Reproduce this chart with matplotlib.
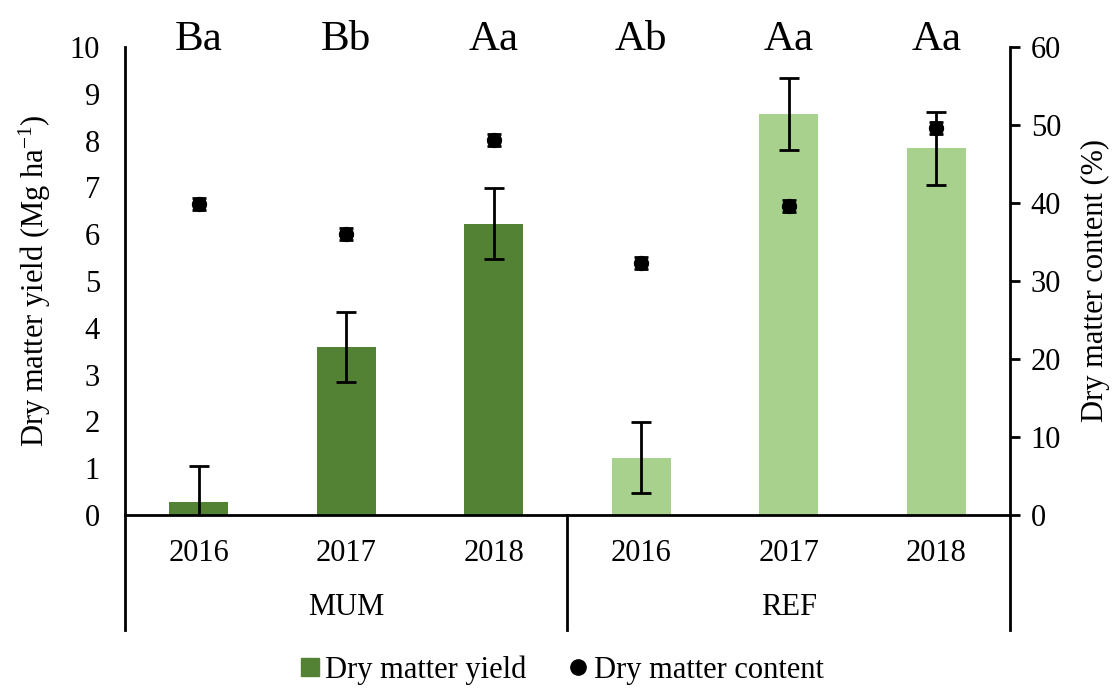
import matplotlib
matplotlib.use("Agg")
import matplotlib.pyplot as plt
import matplotlib.transforms as mtransforms
from matplotlib.lines import Line2D
import numpy as np

plt.rcParams['font.family'] = ['Liberation Serif', 'DejaVu Serif']

years = ["2016", "2017", "2018", "2016", "2017", "2018"]
groups = ["MUM", "REF"]
yield_vals = [0.27, 3.59, 6.22, 1.22, 8.57, 7.84]
yield_err = [0.78, 0.75, 0.76, 0.76, 0.77, 0.78]
content_vals = [39.9, 36.0, 48.1, 32.3, 39.6, 49.6]
content_err = [0.8, 0.8, 0.8, 0.8, 0.8, 0.8]
letters = ["Ba", "Bb", "Aa", "Ab", "Aa", "Aa"]
bar_colors = ["#548235"] * 3 + ["#A9D18E"] * 3

fig = plt.figure(figsize=(11.18, 6.91), dpi=100)
ax = fig.add_axes([0.1118, 0.2547, 0.9034 - 0.1118, 0.932 - 0.2547])
ax2 = ax.twinx()

x = np.arange(len(years))
ax.bar(x, yield_vals, width=0.40, color=bar_colors, zorder=2)
ax.errorbar(x, yield_vals, yerr=yield_err, fmt='none', ecolor='black',
            elinewidth=2.0, capsize=7, capthick=2.0, zorder=3)
ax.set_xlim(-0.5, 5.5)
ax.set_ylim(0, 10)
ax.set_yticks(range(0, 11))
ax.tick_params(axis='y', length=0, pad=18, labelsize=22)
ax.set_xticks(x)
ax.set_xticklabels(years)
ax.tick_params(axis='x', length=0, pad=17, labelsize=22)
ax.set_ylabel("Dry matter yield (Mg ha$\\mathregular{^{-1}}$)", fontsize=22, labelpad=12)

ax2.errorbar(x, content_vals, yerr=content_err, fmt='o', color='black',
             markersize=10, elinewidth=2.0, capsize=5, capthick=2.0, zorder=4)
ax2.set_ylim(0, 60)
ax2.set_yticks(range(0, 61, 10))
ax2.tick_params(axis='y', direction='out', length=7, width=2, pad=8, labelsize=22)
ax2.set_ylabel("Dry matter content (%)", fontsize=22, labelpad=14)

for a in (ax, ax2):
    a.spines['top'].set_visible(False)
    for s in ('left', 'right', 'bottom'):
        a.spines[s].set_linewidth(2)
ax.spines['right'].set_visible(False)
ax2.spines['left'].set_visible(False)
ax2.spines['bottom'].set_visible(False)

trans = mtransforms.blended_transform_factory(ax.transData, ax.transAxes)
# group separators
for xv in (-0.5, 2.5, 5.5):
    ax.add_line(Line2D([xv, xv], [0, -0.246], transform=trans, color='black',
                       linewidth=2, clip_on=False))
for i, g in enumerate(groups):
    ax.text(1 + 3 * i, -0.197, g, transform=trans, ha='center', va='center',
            fontsize=22)

# letters on top
for xi, lab in zip(x, letters):
    ax.text(xi, 0.994, lab, transform=trans, ha='center', va='baseline',
            fontsize=31)

handles = [
    Line2D([], [], marker='s', linestyle='none', color='#548235', markersize=13),
    Line2D([], [], marker='o', linestyle='none', color='black', markersize=11),
]
fig.legend(handles, ["Dry matter yield", "Dry matter content"], loc='center',
           bbox_to_anchor=(0.5, 0.03), ncol=2, frameon=False, fontsize=22,
           handletextpad=0.0, columnspacing=1.2, handlelength=1.0)

fig.savefig("out.png", dpi=100, facecolor='white')
